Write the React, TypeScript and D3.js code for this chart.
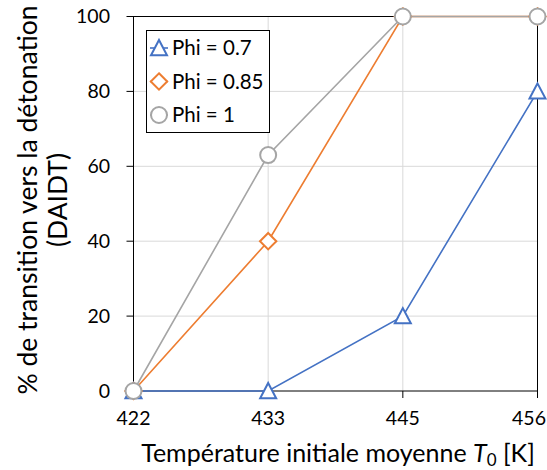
import React from "react";
import * as d3 from "d3";

const categories = ["422", "433", "445", "456"];
const phi07 = [0, 0, 20, 80];
const phi085 = [0, 40, 100, 100];
const phi1 = [0, 63, 100, 100];
const yTicks = [0, 20, 40, 60, 80, 100];
const seriesNames = ["Phi = 0.7", "Phi = 0.85", "Phi = 1"];

const W = 547, H = 470;
const L = 133.5, R = 537.5, T = 16.5, B = 391;
const FONT = "Lato, 'Open Sans', sans-serif";

type Shape = "tri" | "dia" | "circ";
function Marker({ x, y, shape, color }: { x: number; y: number; shape: Shape; color: string }) {
  if (shape === "circ") return <circle cx={x} cy={y} r={8} fill="#fff" stroke={color} strokeWidth={2} />;
  if (shape === "dia") {
    const s = 8.2;
    return <path d={`M${x},${y - s}L${x + s},${y}L${x},${y + s}L${x - s},${y}Z`} fill="#fff" stroke={color} strokeWidth={2} />;
  }
  const s = 8;
  return <path d={`M${x},${y - s}L${x + s},${y + s * 0.9}L${x - s},${y + s * 0.9}Z`} fill="#fff" stroke={color} strokeWidth={2} />;
}

export default function App() {
  const x = d3.scalePoint<string>().domain(categories).range([L, R]);
  const y = d3.scaleLinear().domain([0, 100]).range([B, T]);
  const series = [
    { name: seriesNames[0], values: phi07, color: "#4472C4", shape: "tri" as Shape },
    { name: seriesNames[1], values: phi085, color: "#ED7D31", shape: "dia" as Shape },
    { name: seriesNames[2], values: phi1, color: "#A5A5A5", shape: "circ" as Shape },
  ];
  const line = d3.line<number>().x((_, i) => x(categories[i])!).y((d) => y(d));
  return (
    <svg width={W} height={H} style={{ position: "absolute", left: 0, top: 0, fontFamily: FONT }}>
      <rect width={W} height={H} fill="#fff" />
      {yTicks.filter((t) => t > 0 && t < 100).map((t) => (
        <line key={"hg" + t} x1={L} x2={R} y1={y(t)} y2={y(t)} stroke="#D9D9D9" strokeWidth={1} />
      ))}
      {categories.slice(1, -1).map((c) => (
        <line key={"vg" + c} x1={x(c)} x2={x(c)} y1={T} y2={B} stroke="#D9D9D9" strokeWidth={1} />
      ))}
      <rect x={L} y={T} width={R - L} height={B - T} fill="none" stroke="#000" strokeWidth={1} />
      {yTicks.map((t) => (
        <g key={"yt" + t}>
          <line x1={L - 7} x2={L} y1={y(t)} y2={y(t)} stroke="#000" />
          <text x={110} y={y(t)} dy="0.35em" textAnchor="end" fontSize={19.5} fill="#000">{t}</text>
        </g>
      ))}
      {categories.map((c, i) => {
        const last = i === categories.length - 1;
        return (
          <g key={"xt" + c}>
            <line x1={x(c)} x2={x(c)} y1={B} y2={B + 7} stroke="#000" />
            <text x={last ? W - 1 : x(c)} y={425} textAnchor={last ? "end" : "middle"} fontSize={19.5} fill="#000">{c}</text>
          </g>
        );
      })}
      {series.map((s) => (
        <path key={"l" + s.name} d={line(s.values) || ""} fill="none" stroke={s.color} strokeWidth={1.6} />
      ))}
      {series.map((s) =>
        s.values.map((v, i) => (
          <Marker key={s.name + i} x={x(categories[i])!} y={y(v)} shape={s.shape} color={s.color} />
        ))
      )}
      <text x={338} y={462} textAnchor="middle" fontSize={25} fill="#000">
        Température initiale moyenne <tspan fontStyle="italic">T</tspan>
        <tspan fontSize={17} dy={4}>0</tspan>
        <tspan dy={-4}> [K]</tspan>
      </text>
      <g transform="translate(37,200) rotate(-90)">
        <text x={0} y={0} textAnchor="middle" fontSize={26.5} fill="#000">% de transition vers la détonation</text>
        <text x={0} y={30} textAnchor="middle" fontSize={26.5} fill="#000">(DAIDT)</text>
      </g>
      <rect x={146.5} y={30.5} width={123} height={102} fill="#fff" stroke="#000" strokeWidth={1} />
      {series.map((s, i) => {
        const cy = 48 + i * 33.5;
        return (
          <g key={"lg" + s.name}>
            <line x1={150} x2={168} y1={cy} y2={cy} stroke={s.color} strokeWidth={1.6} />
            <Marker x={159} y={cy} shape={s.shape} color={s.color} />
            <text x={172} y={cy} dy="0.36em" fontSize={20.5} fill="#000">{s.name}</text>
          </g>
        );
      })}
    </svg>
  );
}
